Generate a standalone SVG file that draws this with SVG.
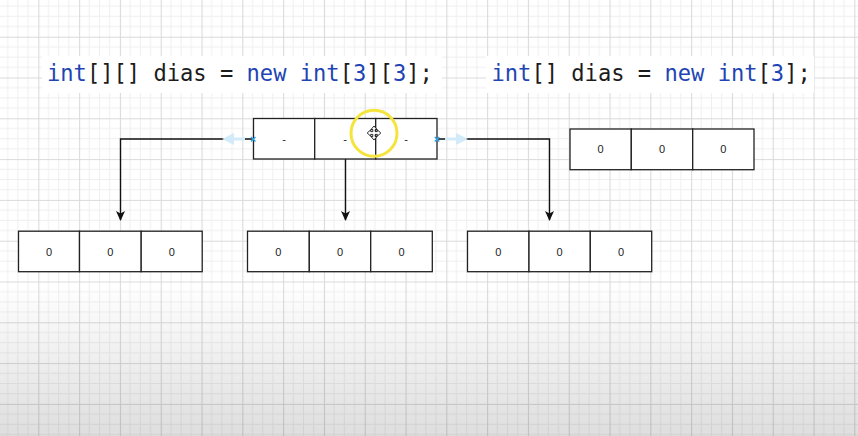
<svg xmlns="http://www.w3.org/2000/svg" width="858" height="436" viewBox="0 0 858 436">
  <defs>
    <pattern id="grid" patternUnits="userSpaceOnUse" x="-2.5" y="-4.1" width="40.8" height="40.8">
      <path d="M10.2 0V40.8M20.4 0V40.8M30.6 0V40.8M0 10.2H40.8M0 20.4H40.8M0 30.6H40.8" stroke="#efefef" stroke-width="1" fill="none"/>
      <path d="M0.5 0V40.8M0 0.5H40.8" stroke="#dadada" stroke-width="1.2" fill="none"/>
    </pattern>
    <linearGradient id="shadeBottom" x1="0" y1="0" x2="0" y2="1">
      <stop offset="0" stop-color="#000" stop-opacity="0"/>
      <stop offset="1" stop-color="#000" stop-opacity="0.13"/>
    </linearGradient>
    <marker id="arrow" viewBox="0 0 10 10" refX="9" refY="5" markerWidth="10" markerHeight="10" markerUnits="userSpaceOnUse" orient="auto">
      <path d="M0 0.5L10 5L0 9.5L2.5 5Z" fill="#111"/>
    </marker>
    <marker id="ghostArrow" viewBox="0 0 10 10" refX="5" refY="5" markerWidth="12" markerHeight="12" markerUnits="userSpaceOnUse" orient="auto">
      <path d="M0 0L10 5L0 10Z" fill="#d3eaf8"/>
    </marker>
  </defs>
  <style>
    .cell { fill: #ffffff; stroke: #222; stroke-width: 1.3; }
    .val { font-family: "Liberation Sans", Arial, sans-serif; font-size: 11px; fill: #222; text-anchor: middle; dominant-baseline: central; }
    .code { font-family: "DejaVu Sans Mono", "Liberation Mono", monospace; font-size: 22.1px; fill: #1c1c1c; }
    .kw { fill: #1f45b4; }
    .edge { fill: none; stroke: #111; stroke-width: 1.4; }
    .handle { stroke: #2ea3e6; stroke-width: 1.4; fill: none; }
  </style>

  <!-- canvas -->
  <rect width="858" height="436" fill="#ffffff"/>
  <rect width="858" height="436" fill="url(#grid)"/>
  <rect y="285" width="858" height="151" fill="url(#shadeBottom)"/>

  <!-- declarations -->
  <g id="decl-2d">
    <rect x="42" y="56" width="400" height="37" fill="#ffffff"/>
    <text class="code" x="47" y="80.5"><tspan class="kw">int</tspan>[][] dias = <tspan class="kw">new</tspan> <tspan class="kw">int</tspan>[<tspan class="kw">3</tspan>][<tspan class="kw">3</tspan>];</text>
  </g>
  <g id="decl-1d">
    <rect x="486" y="56" width="328" height="37" fill="#ffffff"/>
    <text class="code" x="491.5" y="80.5"><tspan class="kw">int</tspan>[] dias = <tspan class="kw">new</tspan> <tspan class="kw">int</tspan>[<tspan class="kw">3</tspan>];</text>
  </g>

  <!-- connectors -->
  <g id="connectors">
    <path class="edge" d="M253.5 139H120.5V220" marker-end="url(#arrow)"/>
    <path class="edge" d="M345.5 159V220" marker-end="url(#arrow)"/>
    <path class="edge" d="M437 139H549.5V220" marker-end="url(#arrow)"/>
  </g>

  <!-- outer array (references) -->
  <g id="outer-array">
    <rect class="cell" x="253.5" y="118.5" width="61.2" height="40.5"/>
    <rect class="cell" x="314.7" y="118.5" width="61" height="40.5"/>
    <rect class="cell" x="375.7" y="118.5" width="61.3" height="40.5"/>
    <text class="val" x="284" y="139">-</text>
    <text class="val" x="345" y="139">-</text>
    <text class="val" x="406" y="139">-</text>
  </g>

  <!-- row arrays -->
  <g id="row-0">
    <rect class="cell" x="18.5" y="231.2" width="61" height="40.5"/>
    <rect class="cell" x="79.5" y="231.2" width="61.7" height="40.5"/>
    <rect class="cell" x="141.2" y="231.2" width="61" height="40.5"/>
    <text class="val" x="49" y="251.5">0</text>
    <text class="val" x="110.3" y="251.5">0</text>
    <text class="val" x="171.7" y="251.5">0</text>
  </g>
  <g id="row-1">
    <rect class="cell" x="247.5" y="231.2" width="61.8" height="40.5"/>
    <rect class="cell" x="309.3" y="231.2" width="61.4" height="40.5"/>
    <rect class="cell" x="370.7" y="231.2" width="61.6" height="40.5"/>
    <text class="val" x="278.4" y="251.5">0</text>
    <text class="val" x="340" y="251.5">0</text>
    <text class="val" x="401.5" y="251.5">0</text>
  </g>
  <g id="row-2">
    <rect class="cell" x="467.5" y="231.2" width="61.5" height="40.5"/>
    <rect class="cell" x="529" y="231.2" width="61.3" height="40.5"/>
    <rect class="cell" x="590.3" y="231.2" width="61.4" height="40.5"/>
    <text class="val" x="498.2" y="251.5">0</text>
    <text class="val" x="559.6" y="251.5">0</text>
    <text class="val" x="621" y="251.5">0</text>
  </g>

  <!-- single-dimension array -->
  <g id="array-1d">
    <rect class="cell" x="570" y="129" width="61.3" height="40.7"/>
    <rect class="cell" x="631.3" y="129" width="61.4" height="40.7"/>
    <rect class="cell" x="692.7" y="129" width="61.3" height="40.7"/>
    <text class="val" x="600.6" y="149.3">0</text>
    <text class="val" x="662" y="149.3">0</text>
    <text class="val" x="723.3" y="149.3">0</text>
  </g>

  <!-- editor selection overlay -->
  <g id="selection">
    <path d="M245 139H228" stroke="#d3eaf8" stroke-width="3" marker-end="url(#ghostArrow)"/>
    <path d="M445 139H462" stroke="#d3eaf8" stroke-width="3" marker-end="url(#ghostArrow)"/>
    <path class="handle" d="M251 137L255.5 141.5M255.5 137L251 141.5"/>
    <path class="handle" d="M434.8 137L439.3 141.5M439.3 137L434.8 141.5"/>
  </g>

  <!-- pointer highlight -->
  <g id="pointer">
    <circle cx="374" cy="133.3" r="23" fill="none" stroke="#f4e43c" stroke-width="3"/>
    <path d="M374 126L377 129.5H375.2V131.6H377.3V129.8L380.8 133L377.3 136.2V134.4H375.2V136.5H377L374 140L371 136.5H372.8V134.4H370.7V136.2L367.2 133L370.7 129.8V131.6H372.8V129.5H371Z" fill="#ffffff" stroke="#111" stroke-width="0.9" stroke-linejoin="round"/>
  </g>
</svg>
